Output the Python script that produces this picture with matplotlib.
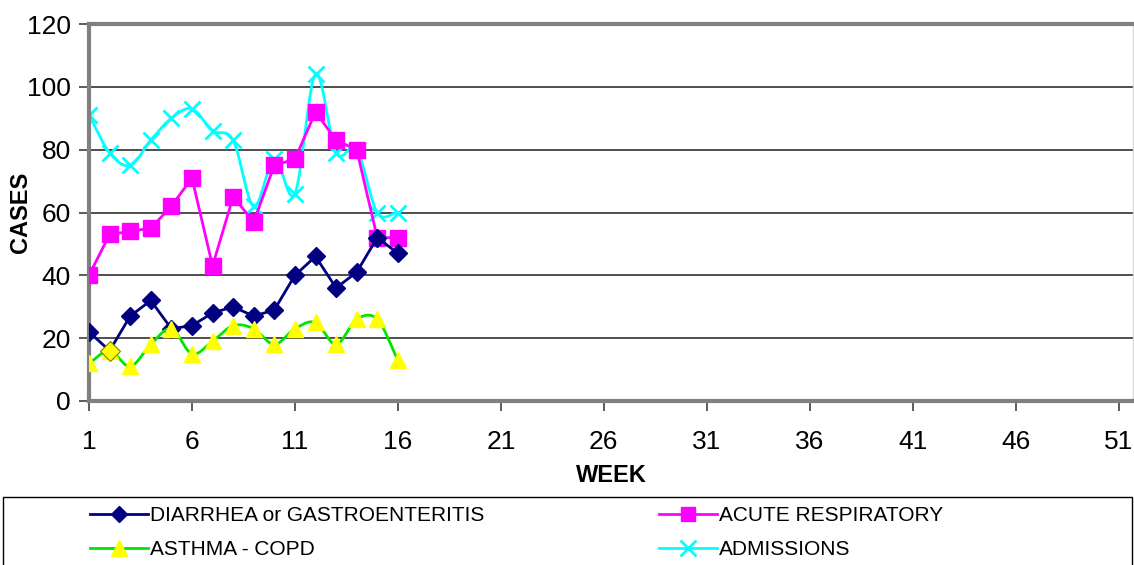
import numpy as np
import matplotlib
matplotlib.use("Agg")
import matplotlib.pyplot as plt
from matplotlib.lines import Line2D
from matplotlib.patches import Rectangle

plt.rcParams['font.family'] = ['Liberation Sans', 'DejaVu Sans']

weeks = list(range(1, 17))
diarrhea = [22, 16, 27, 32, 23, 24, 28, 30, 27, 29, 40, 46, 36, 41, 52, 47]
respiratory = [40, 53, 54, 55, 62, 71, 43, 65, 57, 75, 77, 92, 83, 80, 52, 52]
asthma = [12, 16, 11, 18, 23, 15, 19, 24, 23, 18, 23, 25, 18, 26, 26, 13]
admissions = [91, 79, 75, 83, 90, 93, 86, 83, 62, 77, 66, 104, 79, 80, 60, 60]

x_ticks = list(range(1, 52, 5))
y_ticks = [0, 20, 40, 60, 80, 100, 120]


def smooth(x, y, n=20):
    # catmull-rom curve through the points, like excel "smoothed line"
    x = np.asarray(x, float)
    y = np.asarray(y, float)
    px = np.concatenate([[2 * x[0] - x[1]], x, [2 * x[-1] - x[-2]]])
    py = np.concatenate([[2 * y[0] - y[1]], y, [2 * y[-1] - y[-2]]])
    xs, ys = [], []
    t = np.linspace(0, 1, n)
    for i in range(1, len(px) - 2):
        for p, out in ((px, xs), (py, ys)):
            p0, p1, p2, p3 = p[i - 1], p[i], p[i + 1], p[i + 2]
            out.extend(0.5 * ((2 * p1) + (-p0 + p2) * t
                              + (2 * p0 - 5 * p1 + 4 * p2 - p3) * t ** 2
                              + (-p0 + 3 * p1 - 3 * p2 + p3) * t ** 3))
    return np.array(xs), np.array(ys)


W, H = 1134, 565
fig = plt.figure(figsize=(W / 100, H / 100), dpi=100)
ax = fig.add_axes([89 / W, 164 / H, (1133 - 89) / W, 377 / H])

navy = '#000080'
magenta = '#FF00FF'
green = '#00E600'
yellow = '#FFFF00'
cyan = '#00FFFF'

ax.plot(weeks, diarrhea, color=navy, lw=2, marker='D', ms=9, mfc=navy, mec=navy, zorder=4)
ax.plot(weeks, respiratory, color=magenta, lw=2, marker='s', ms=11, mfc=magenta, mec=magenta, zorder=3)
sx, sy = smooth(weeks, asthma)
ax.plot(sx, sy, color=green, lw=2, zorder=5)
ax.plot(weeks, asthma, ls='none', marker='^', ms=12, mfc=yellow, mec=yellow, zorder=6)
ax.plot(weeks[1], asthma[1], ls='none', marker='D', ms=10, mfc=yellow, mec='#808000', mew=0.8, zorder=7)
sx, sy = smooth(weeks, admissions)
ax.plot(sx, sy, color=cyan, lw=2, zorder=2)
ax.plot(weeks, admissions, ls='none', marker='x', ms=11, mew=2, color=cyan, zorder=2)

ax.set_xlim(1, 51.7)
ax.set_ylim(0, 120)
ax.set_xticks(x_ticks)
ax.set_yticks(y_ticks)
ax.tick_params(labelsize=19, length=7, width=1.2, color='#404040', direction='out')
ax.tick_params(axis='x', pad=14)
ax.tick_params(axis='y', pad=6)
ax.yaxis.grid(True, color='#404040', lw=1.3)
ax.set_axisbelow(True)
for s in ['left', 'top', 'bottom']:
    ax.spines[s].set_color('#808080')
    ax.spines[s].set_linewidth(3)
ax.spines['right'].set_color('#d8d8d8')
ax.spines['right'].set_linewidth(1)

ax.set_xlabel('WEEK', fontsize=17, fontweight='bold', labelpad=7)
ax.set_ylabel('CASES', fontsize=17, fontweight='bold')
ax.yaxis.set_label_coords((32 - 89) / (1133 - 89), 0.5)

handles = [
    Line2D([], [], color=navy, lw=2, marker='D', ms=8, mfc=navy, mec=navy),
    Line2D([], [], color=green, lw=2, marker='^', ms=11, mfc=yellow, mec=yellow),
    Line2D([], [], color=magenta, lw=2, marker='s', ms=10, mfc=magenta, mec=magenta),
    Line2D([], [], color=cyan, lw=2, marker='x', ms=11, mew=2),
]
labels = ['DIARRHEA or GASTROENTERITIS', 'ASTHMA - COPD', 'ACUTE RESPIRATORY', 'ADMISSIONS']
fig.legend(handles, labels, ncol=2, loc='upper left', bbox_to_anchor=(90 / W, 1 - 506 / H),
           fontsize=15, frameon=False, borderaxespad=0, borderpad=0,
           handlelength=2.8, handletextpad=0.1, columnspacing=8.35, labelspacing=0.74)
fig.patches.append(Rectangle((3 / W, -0.01), 1129 / W, 1 - 497 / H + 0.01, transform=fig.transFigure,
                             fill=False, edgecolor='black', lw=1))

fig.savefig('out.png', dpi=100)
